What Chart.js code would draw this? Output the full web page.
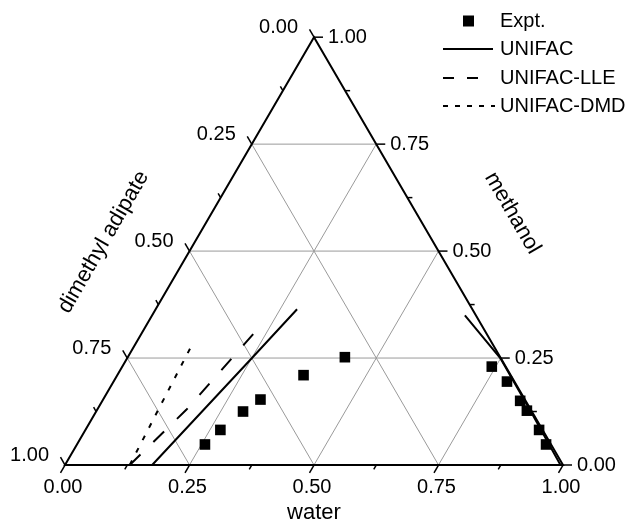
<!DOCTYPE html>
<html>
<head>
<meta charset="utf-8">
<script src="https://cdn.jsdelivr.net/npm/chart.js@4.4.1/dist/chart.umd.min.js"></script>
<style>
  html, body { margin: 0; padding: 0; background: #fff; }
  #wrap { width: 637px; height: 523px; }
</style>
</head>
<body>
<div id="wrap"><canvas id="myChart1"></canvas></div>
<script>
// mass fractions: water, methanol (dimethyl adipate = 1 - water - methanol)
const exptWater = [0.257, 0.271, 0.295, 0.316, 0.374, 0.436, 0.742, 0.790, 0.839, 0.864, 0.911, 0.942];
const exptMethanol = [0.048, 0.082, 0.125, 0.153, 0.210, 0.252, 0.230, 0.195, 0.150, 0.127, 0.082, 0.048];

const unifacWater = [0.175, 0.250, 0.284];
const unifacMethanol = [0.0, 0.249, 0.364];
const unifacRichWater = [0.628, 0.749, 0.870, 0.995];
const unifacRichMethanol = [0.350, 0.250, 0.128, 0.0];

const lleWater = [0.130, 0.179, 0.232];
const lleMethanol = [0.0, 0.129, 0.333];

const dmdWater = [0.130, 0.123, 0.115];
const dmdMethanol = [0.0, 0.125, 0.273];

const tickValues = [0, 0.25, 0.5, 0.75, 1];
const tickLabels = ['0.00', '0.25', '0.50', '0.75', '1.00'];
const minorTicks = [0.125, 0.375, 0.625, 0.875];
const gridValues = [0.25, 0.5, 0.75];
const legendNames = ['Expt.', 'UNIFAC', 'UNIFAC-LLE', 'UNIFAC-DMD'];

const S3 = Math.sqrt(3) / 2;
const FONT = '"Liberation Sans", Arial, sans-serif';

// ternary (water, methanol) -> cartesian
function toXY(w, m) {
    return { x: w + m / 2, y: m * S3 };
}
function series(ws, ms) {
    return ws.map((w, i) => toXY(w, ms[i]));
}

function lineSet(label, ws, ms, dash) {
    return {
        label: label,
        data: series(ws, ms),
        showLine: true,
        borderColor: '#000',
        borderWidth: 2,
        borderDash: dash,
        pointRadius: 0,
        fill: false
    };
}

const ternaryFrame = {
    id: 'ternaryFrame',
    beforeDatasetsDraw(chart) {
        const ctx = chart.ctx;
        const sx = chart.scales.x, sy = chart.scales.y;
        const P = (w, m) => {
            const c = toXY(w, m);
            return [sx.getPixelForValue(c.x), sy.getPixelForValue(c.y)];
        };
        const seg = (a, b) => {
            ctx.beginPath();
            ctx.moveTo(a[0], a[1]);
            ctx.lineTo(b[0], b[1]);
            ctx.stroke();
        };
        ctx.save();
        // grid
        ctx.strokeStyle = '#9a9a9a';
        ctx.lineWidth = 1;
        gridValues.forEach(v => {
            seg(P(0, v), P(1 - v, v));       // methanol const
            seg(P(v, 0), P(v, 1 - v));       // water const
            seg(P(1 - v, 0), P(0, 1 - v));   // dimethyl adipate const
        });
        // frame
        ctx.strokeStyle = '#000';
        ctx.lineWidth = 2;
        ctx.beginPath();
        const a = P(0, 0), b = P(1, 0), c = P(0, 1);
        ctx.moveTo(a[0], a[1]); ctx.lineTo(b[0], b[1]); ctx.lineTo(c[0], c[1]); ctx.closePath();
        ctx.stroke();

        // ticks
        ctx.lineWidth = 1.5;
        const tick = (p, dx, dy, len) => seg(p, [p[0] + dx * len, p[1] + dy * len]);
        const all = tickValues.map(v => [v, 9]).concat(minorTicks.map(v => [v, 5]));
        all.forEach(([v, len]) => {
            tick(P(v, 0), -0.5, S3, len);          // water (bottom)
            tick(P(1 - v, v), 1, 0, len);          // methanol (right)
            tick(P(0, 1 - v), -0.5, -S3, len);     // dimethyl adipate (left)
        });

        // tick labels
        ctx.fillStyle = '#000';
        ctx.font = '20px ' + FONT;
        ctx.textBaseline = 'middle';
        tickValues.forEach((v, i) => {
            let p = P(v, 0);
            ctx.textAlign = 'center';
            ctx.fillText(tickLabels[i], p[0] - 2, p[1] + 22);
            p = P(1 - v, v);
            ctx.textAlign = 'left';
            ctx.fillText(tickLabels[i], p[0] + 14, p[1]);
            p = P(0, 1 - v);
            ctx.textAlign = 'right';
            ctx.fillText(tickLabels[i], p[0] - 16, p[1] - 10);
        });

        // axis titles
        ctx.font = '22px ' + FONT;
        ctx.textAlign = 'center';
        const wb = P(0.5, 0);
        ctx.fillText('water', wb[0], wb[1] + 48);
        const mr = P(0.5, 0.5);
        ctx.save();
        ctx.translate(mr[0] + 74, mr[1] - 38);
        ctx.rotate(Math.PI / 3);
        ctx.fillText('methanol', 0, 0);
        ctx.restore();
        const dl = P(0, 0.5);
        ctx.save();
        ctx.translate(dl[0] - 86, dl[1] - 9);
        ctx.rotate(-Math.PI / 3);
        ctx.fillText('dimethyl adipate', 0, 0);
        ctx.restore();
        ctx.restore();
    },
    afterDraw(chart) {
        const ctx = chart.ctx;
        ctx.save();
        ctx.fillStyle = '#000';
        ctx.strokeStyle = '#000';
        ctx.lineWidth = 2;
        ctx.font = '20px ' + FONT;
        ctx.textAlign = 'left';
        ctx.textBaseline = 'middle';
        const x0 = 443, tx = 500;
        const rows = [21, 49, 78, 106];
        const ends = [493, 481, 495];
        ctx.fillRect(463, rows[0] - 5.5, 11, 11);
        const dashes = [[], [11, 13], [5, 7]];
        for (let i = 1; i < 4; i++) {
            ctx.setLineDash(dashes[i - 1]);
            ctx.beginPath();
            ctx.moveTo(x0, rows[i]);
            ctx.lineTo(ends[i - 1], rows[i]);
            ctx.stroke();
        }
        ctx.setLineDash([]);
        legendNames.forEach((n, i) => ctx.fillText(n, tx, rows[i]));
        ctx.restore();
    }
};

const ctx1 = document.getElementById('myChart1');
const myChart1 = new Chart(ctx1, {
    type: 'scatter',
    data: {
        datasets: [
            lineSet('UNIFAC', unifacWater, unifacMethanol, []),
            lineSet('UNIFAC (rich)', unifacRichWater, unifacRichMethanol, []),
            lineSet('UNIFAC-LLE', lleWater, lleMethanol, [15, 18]),
            lineSet('UNIFAC-DMD', dmdWater, dmdMethanol, [5, 9]),
            {
                label: 'Expt.',
                data: series(exptWater, exptMethanol),
                pointStyle: 'rect',
                pointRadius: 7.5,
                backgroundColor: '#000',
                borderWidth: 0,
                showLine: false
            }
        ]
    },
    options: {
        responsive: true,
        maintainAspectRatio: false,
        animation: false,
        layout: { padding: 0, autoPadding: false },
        plugins: {
            legend: { display: false },
            tooltip: { enabled: false }
        },
        scales: {
            x: { type: 'linear', display: false, min: -65 / 498, max: (637 - 65) / 498 },
            y: { type: 'linear', display: false, min: -(523 - 465) / 494, max: 465 / 494 }
        }
    },
    plugins: [ternaryFrame]
});
</script>
</body>
</html>
